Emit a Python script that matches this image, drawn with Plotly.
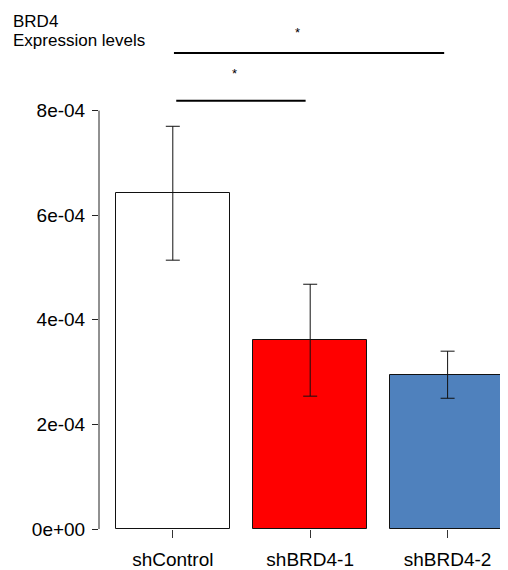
import plotly.graph_objects as go

# ---- data ----
categories = ["shControl", "shBRD4-1", "shBRD4-2"]
means = [6.42e-4, 3.61e-4, 2.95e-4]
errors = [1.28e-4, 1.07e-4, 0.45e-4]
bar_colors = ["#FFFFFF", "#FF0000", "#4F81BD"]
ytick_vals = [0, 2e-4, 4e-4, 6e-4, 8e-4]
ytick_text = ["0e+00", "2e-04", "4e-04", "6e-04", "8e-04"]
title_lines = ["BRD4", "Expression levels"]

# significance brackets (x in bar-axis units, y in data units)
sig_x0 = [0.71, 0.73]
sig_x1 = [3.07, 1.86]
sig_y = [9.10e-4, 8.19e-4]
sig_star_x = [1.79, 1.235]
sig_star_y = [9.49e-4, 8.71e-4]
sig_labels = ["*", "*"]

FONT = "Liberation Sans, Arial, sans-serif"

# page body has an 8px margin: the figure is laid out in page coords minus 8
OFF = 8
W, H = 508, 570

# R barplot convention: width 1, space 0.2
pos = [0.7 + 1.2 * i for i in range(len(categories))]

fig = go.Figure()
fig.add_trace(go.Bar(
    x=pos, y=means, width=1.0,
    marker=dict(color=bar_colors, line=dict(color="#111111", width=1)),
    error_y=dict(type="data", array=errors, visible=True,
                 color="#111111", thickness=1, width=7),
    cliponaxis=False, showlegend=False, hoverinfo="skip",
))

# y axis line only from 0 to top tick (R style)
fig.add_shape(type="line", xref="paper", yref="y", x0=0, x1=0,
              y0=ytick_vals[0], y1=ytick_vals[-1],
              line=dict(color="#222222", width=1))

for x0, x1, y in zip(sig_x0, sig_x1, sig_y):
    fig.add_shape(type="line", xref="x", yref="y", x0=x0, x1=x1, y0=y, y1=y,
                  line=dict(color="black", width=2))
for x, y, t in zip(sig_star_x, sig_star_y, sig_labels):
    fig.add_annotation(x=x, y=y, xref="x", yref="y", text=t, showarrow=False,
                       font=dict(family=FONT, size=13, color="black"))

left = 99 - OFF
right = OFF
bottom_px = 529.3 - OFF
b = round(H - bottom_px)
px_per_unit = 114.5
plot_w = W - left - right
x0 = pos[0] - (172.8 - 99) / px_per_unit
x1 = x0 + plot_w / px_per_unit

plot_h = H - b
ymax = plot_h / 523000.0

# title lines as separate annotations (tight line spacing like the original)
title_centers_px = [21.3 - OFF, 40.9 - OFF]
for txt, cy in zip(title_lines, title_centers_px):
    fig.add_annotation(text=txt, xref="paper", yref="paper",
                       x=(12 - 99) / plot_w, xanchor="left",
                       y=1 - cy / plot_h, yanchor="middle",
                       showarrow=False, borderpad=0,
                       font=dict(family=FONT, size=17, color="black"))

fig.update_layout(
    width=W, height=H,
    margin=dict(l=left, r=right, t=0, b=b, autoexpand=False),
    paper_bgcolor="white", plot_bgcolor="white",
    font=dict(family=FONT, size=19, color="black"),
    xaxis=dict(range=[x0, x1], tickmode="array", tickvals=pos, ticktext=categories,
               showline=False, showgrid=False, zeroline=False,
               ticks="outside", ticklen=8, tickcolor="#333333", tickwidth=1,
               ticklabelstandoff=5, automargin=False,
               tickfont=dict(family=FONT, size=19)),
    yaxis=dict(range=[0, ymax], tickmode="array", tickvals=ytick_vals,
               ticktext=ytick_text, showline=False, showgrid=False,
               zeroline=False, ticks="outside", ticklen=6, tickcolor="#222222",
               tickwidth=1, ticklabelstandoff=3, automargin=False,
               tickfont=dict(family=FONT, size=19)),
    bargap=0,
)

fig.write_html("out.html")
